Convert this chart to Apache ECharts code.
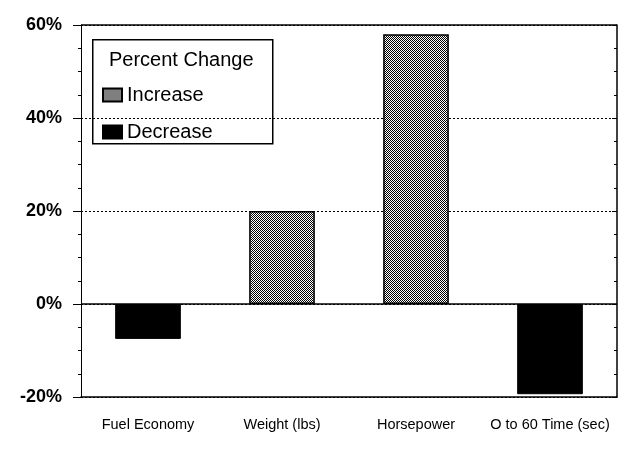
<!DOCTYPE html>
<html><head><meta charset="utf-8">
<script src="https://cdn.jsdelivr.net/npm/echarts@6/dist/echarts.min.js"></script>
<style>html,body{margin:0;padding:0;background:#fff}#c{width:628px;height:451px}</style>
</head><body><div id="c"></div>
<script>
const categories = ['Fuel Economy', 'Weight (lbs)', 'Horsepower', 'O to 60 Time (sec)'];
const increaseValues = [null, 20, 58, null];
const decreaseValues = [-7.5, null, null, -19.4];
const yTicks = { min: -20, max: 60, interval: 20 };

const pc = document.createElement('canvas');
pc.width = 2; pc.height = 2;
const pctx = pc.getContext('2d');
pctx.fillStyle = '#fff'; pctx.fillRect(0, 0, 2, 2);
pctx.fillStyle = '#000'; pctx.fillRect(0, 0, 1, 1); pctx.fillRect(1, 1, 1, 1);
const pattern = { image: pc, repeat: 'repeat' };

const F = 'Liberation Sans, Arial, sans-serif';
const chart = echarts.init(document.getElementById('c'), null, { renderer: 'canvas' });
chart.setOption({
  animation: false,
  backgroundColor: '#fff',
  grid: { left: 81, right: 11, top: 25, bottom: 54 },
  title: {
    text: 'Percent Change', left: 104, top: 45,
    textStyle: { fontFamily: F, fontSize: 20, fontWeight: 'normal', color: '#000' }
  },
  legend: {
    orient: 'vertical', left: 97, top: 80,
    itemWidth: 19, itemHeight: 13, itemGap: 17, icon: 'rect',
    textStyle: { fontFamily: F, fontSize: 20, color: '#000' },
    data: ['Increase', 'Decrease']
  },
  graphic: [{
    type: 'rect', left: 92, top: 39, z: 0,
    shape: { width: 180, height: 104 },
    style: { fill: '#fff', stroke: '#000', lineWidth: 1.5 }
  }],
  xAxis: {
    type: 'category', data: categories,
    axisLine: { onZero: false, lineStyle: { color: '#000', width: 1.5 } },
    axisTick: { alignWithLabel: true, length: 7, inside: false, lineStyle: { color: '#000' } },
    axisLabel: { interval: 0, fontFamily: F, fontSize: 14.5, color: '#000', margin: 20 }
  },
  yAxis: [{
    type: 'value', min: yTicks.min, max: yTicks.max, interval: yTicks.interval,
    axisLine: { show: true, lineStyle: { color: '#000', width: 1 } },
    axisTick: { show: true, length: 8, lineStyle: { color: '#000' } },
    minorTick: { show: true, splitNumber: 4, length: 3, lineStyle: { color: '#000' } },
    axisLabel: { formatter: '{value}%', fontFamily: F, fontSize: 18, fontWeight: 'bold', color: '#000', margin: 19 },
    splitLine: { show: true, lineStyle: { color: '#000', type: [2, 2], width: 1 } }
  }, {
    type: 'value', position: 'right', min: yTicks.min, max: yTicks.max, interval: yTicks.interval,
    axisLine: { show: true, lineStyle: { color: '#000', width: 1.5 } },
    axisTick: { show: true, inside: true, length: 5, lineStyle: { color: '#000' } },
    minorTick: { show: true, splitNumber: 4, length: 3, lineStyle: { color: '#000' } },
    axisLabel: { show: false }, splitLine: { show: false }
  }],
  series: [{
    name: 'Increase', type: 'bar', data: increaseValues, barWidth: '49%', barGap: '-100%',
    itemStyle: { color: pattern, borderColor: '#000', borderWidth: 1.5 },
    markLine: {
      silent: true, symbol: 'none', label: { show: false },
      lineStyle: { color: '#000', type: 'solid', width: 1.5 },
      data: [{ yAxis: 0 }, { yAxis: 60 }]
    }
  }, {
    name: 'Decrease', type: 'bar', data: decreaseValues, barWidth: '49%', barGap: '-100%',
    itemStyle: { color: '#000', borderColor: '#000', borderWidth: 1 }
  }]
});
</script></body></html>
